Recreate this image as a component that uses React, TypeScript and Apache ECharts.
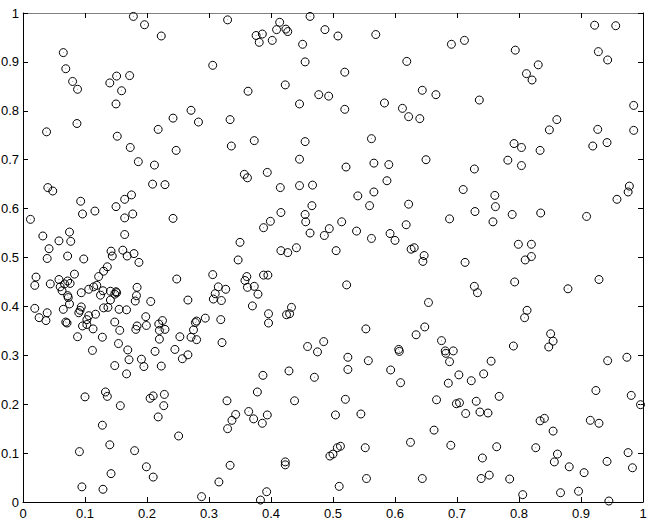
import React, { useEffect, useRef } from 'react';
import * as echarts from 'echarts';

// Tick values shared by both axes
const tickValues = [0, 0.1, 0.2, 0.3, 0.4, 0.5, 0.6, 0.7, 0.8, 0.9, 1];

// Points, grouped by region of the plot
const pointsTopLeft: [number, number][] = [
  [0.178, 0.993], [0.196, 0.976], [0.223, 0.953], [0.065, 0.919], [0.069, 0.886], [0.080, 0.860],
  [0.088, 0.844], [0.140, 0.857], [0.151, 0.871], [0.172, 0.872], [0.159, 0.841], [0.150, 0.814],
  [0.087, 0.774], [0.038, 0.757], [0.152, 0.748], [0.218, 0.762], [0.173, 0.725], [0.186, 0.696],
  [0.212, 0.689],
];

const pointsTopMidLeft: [number, number][] = [
  [0.330, 0.986], [0.376, 0.954], [0.386, 0.957], [0.381, 0.940], [0.414, 0.981], [0.409, 0.966],
  [0.424, 0.967], [0.427, 0.962], [0.402, 0.944], [0.463, 0.993], [0.487, 0.966], [0.451, 0.936],
  [0.455, 0.900], [0.306, 0.893], [0.423, 0.853], [0.363, 0.840], [0.477, 0.833], [0.493, 0.830],
  [0.446, 0.814], [0.271, 0.801], [0.242, 0.785], [0.283, 0.777], [0.334, 0.782], [0.247, 0.719],
  [0.336, 0.728], [0.373, 0.739], [0.455, 0.737], [0.446, 0.701], [0.394, 0.674],
];

const pointsTopMidRight: [number, number][] = [
  [0.508, 0.953], [0.569, 0.956], [0.691, 0.936], [0.712, 0.944], [0.619, 0.901], [0.519, 0.879],
  [0.644, 0.842], [0.666, 0.833], [0.736, 0.822], [0.583, 0.816], [0.519, 0.803], [0.612, 0.805],
  [0.622, 0.788], [0.640, 0.784], [0.562, 0.743], [0.521, 0.685], [0.566, 0.693], [0.590, 0.690],
  [0.650, 0.700], [0.728, 0.681],
];

const pointsTopRight: [number, number][] = [
  [0.922, 0.975], [0.956, 0.974], [0.794, 0.924], [0.928, 0.921], [0.943, 0.904], [0.831, 0.894],
  [0.812, 0.876], [0.821, 0.863], [0.985, 0.811], [0.861, 0.782], [0.849, 0.761], [0.927, 0.762],
  [0.985, 0.760], [0.792, 0.733], [0.804, 0.725], [0.834, 0.719], [0.919, 0.728], [0.942, 0.735],
  [0.782, 0.699], [0.804, 0.688],
];

const pointsMiddleLeft: [number, number][] = [
  [0.040, 0.643], [0.048, 0.636], [0.209, 0.650], [0.229, 0.649], [0.093, 0.615], [0.096, 0.589],
  [0.116, 0.595], [0.012, 0.578], [0.150, 0.604], [0.164, 0.619], [0.175, 0.628], [0.164, 0.581],
  [0.177, 0.589], [0.164, 0.547], [0.032, 0.544], [0.058, 0.534], [0.075, 0.552], [0.077, 0.533],
  [0.042, 0.518], [0.039, 0.498], [0.072, 0.503], [0.098, 0.497], [0.142, 0.513], [0.144, 0.503],
  [0.161, 0.515], [0.168, 0.503], [0.179, 0.508], [0.187, 0.490], [0.021, 0.460], [0.019, 0.443],
  [0.044, 0.446], [0.058, 0.455], [0.060, 0.440], [0.063, 0.432], [0.067, 0.446], [0.072, 0.452],
  [0.076, 0.447], [0.083, 0.466], [0.072, 0.422], [0.073, 0.418], [0.075, 0.405], [0.065, 0.394],
  [0.019, 0.396], [0.026, 0.377], [0.039, 0.387], [0.037, 0.371], [0.069, 0.368], [0.071, 0.366],
  [0.088, 0.338], [0.094, 0.428], [0.106, 0.435], [0.114, 0.440], [0.119, 0.443], [0.122, 0.461],
  [0.130, 0.472], [0.136, 0.481], [0.125, 0.423], [0.129, 0.432], [0.141, 0.431], [0.150, 0.430],
  [0.151, 0.428], [0.148, 0.425], [0.141, 0.413], [0.184, 0.439], [0.183, 0.422], [0.181, 0.411],
  [0.206, 0.410], [0.094, 0.399], [0.092, 0.392], [0.090, 0.387], [0.106, 0.381], [0.103, 0.373],
  [0.117, 0.384], [0.096, 0.360], [0.103, 0.363], [0.113, 0.354], [0.130, 0.397], [0.137, 0.398],
  [0.155, 0.394], [0.167, 0.393], [0.148, 0.368], [0.156, 0.351], [0.182, 0.353], [0.184, 0.360],
  [0.198, 0.379], [0.199, 0.361], [0.219, 0.364], [0.225, 0.371], [0.220, 0.351], [0.229, 0.353],
  [0.220, 0.333], [0.128, 0.337], [0.154, 0.324],
];

const pointsMiddleMidLeft: [number, number][] = [
  [0.357, 0.670], [0.362, 0.663], [0.415, 0.643], [0.446, 0.647], [0.467, 0.648], [0.466, 0.606],
  [0.455, 0.588], [0.456, 0.573], [0.416, 0.592], [0.399, 0.574], [0.388, 0.561], [0.463, 0.550],
  [0.494, 0.559], [0.486, 0.545], [0.242, 0.580], [0.350, 0.531], [0.416, 0.514], [0.427, 0.510],
  [0.441, 0.520], [0.347, 0.495], [0.306, 0.465], [0.248, 0.456], [0.361, 0.461], [0.358, 0.453],
  [0.362, 0.439], [0.373, 0.441], [0.379, 0.425], [0.388, 0.464], [0.395, 0.464], [0.370, 0.401],
  [0.315, 0.440], [0.327, 0.435], [0.310, 0.426], [0.307, 0.415], [0.320, 0.412], [0.266, 0.413],
  [0.294, 0.376], [0.319, 0.373], [0.278, 0.367], [0.280, 0.370], [0.275, 0.352], [0.271, 0.337],
  [0.280, 0.332], [0.253, 0.338], [0.321, 0.326], [0.396, 0.385], [0.396, 0.366], [0.425, 0.383],
  [0.430, 0.385], [0.433, 0.398], [0.459, 0.318], [0.485, 0.328],
];

const pointsMiddleMidRight: [number, number][] = [
  [0.587, 0.657], [0.540, 0.626], [0.566, 0.634], [0.559, 0.606], [0.622, 0.609], [0.710, 0.639],
  [0.761, 0.627], [0.762, 0.604], [0.729, 0.594], [0.758, 0.573], [0.688, 0.579], [0.514, 0.573],
  [0.618, 0.567], [0.538, 0.554], [0.562, 0.539], [0.592, 0.549], [0.600, 0.535], [0.505, 0.514],
  [0.626, 0.517], [0.631, 0.520], [0.647, 0.504], [0.645, 0.492], [0.713, 0.490], [0.522, 0.444],
  [0.728, 0.441], [0.733, 0.428], [0.654, 0.408], [0.553, 0.354], [0.648, 0.358], [0.634, 0.342],
  [0.675, 0.330],
];

const pointsMiddleRight: [number, number][] = [
  [0.978, 0.646], [0.976, 0.634], [0.958, 0.619], [0.789, 0.588], [0.835, 0.591], [0.909, 0.584],
  [0.799, 0.527], [0.820, 0.527], [0.820, 0.502], [0.810, 0.495], [0.793, 0.450], [0.929, 0.455],
  [0.879, 0.436], [0.813, 0.392], [0.809, 0.377], [0.851, 0.344], [0.855, 0.329], [0.848, 0.317],
  [0.791, 0.319],
];

const pointsBottomLeft: [number, number][] = [
  [0.112, 0.310], [0.169, 0.311], [0.213, 0.308], [0.171, 0.291], [0.191, 0.292], [0.148, 0.279],
  [0.195, 0.277], [0.223, 0.278], [0.167, 0.262], [0.100, 0.215], [0.133, 0.225], [0.136, 0.216],
  [0.157, 0.197], [0.205, 0.212], [0.210, 0.217], [0.228, 0.220], [0.227, 0.197], [0.218, 0.174],
  [0.128, 0.157], [0.140, 0.117], [0.091, 0.103], [0.180, 0.105], [0.199, 0.072], [0.210, 0.051],
  [0.142, 0.058], [0.095, 0.031], [0.129, 0.026],
];

const pointsBottomMidLeft: [number, number][] = [
  [0.245, 0.312], [0.257, 0.293], [0.266, 0.301], [0.387, 0.259], [0.429, 0.268], [0.470, 0.255],
  [0.475, 0.307], [0.378, 0.225], [0.329, 0.207], [0.438, 0.207], [0.364, 0.185], [0.372, 0.170],
  [0.386, 0.161], [0.394, 0.178], [0.343, 0.179], [0.337, 0.167], [0.330, 0.150], [0.251, 0.135],
  [0.423, 0.082], [0.423, 0.076], [0.334, 0.075], [0.316, 0.041], [0.288, 0.011], [0.393, 0.021],
  [0.383, 0.004],
];

const pointsBottomMidRight: [number, number][] = [
  [0.606, 0.312], [0.607, 0.308], [0.681, 0.309], [0.682, 0.304], [0.694, 0.309], [0.524, 0.296],
  [0.557, 0.289], [0.524, 0.271], [0.593, 0.270], [0.688, 0.287], [0.755, 0.288], [0.743, 0.262],
  [0.703, 0.260], [0.686, 0.243], [0.723, 0.248], [0.609, 0.244], [0.520, 0.210], [0.667, 0.209],
  [0.699, 0.201], [0.704, 0.203], [0.731, 0.206], [0.714, 0.181], [0.737, 0.184], [0.750, 0.182],
  [0.504, 0.178], [0.545, 0.180], [0.663, 0.147], [0.625, 0.122], [0.690, 0.116], [0.495, 0.094],
  [0.500, 0.098], [0.507, 0.111], [0.512, 0.114], [0.552, 0.111], [0.741, 0.090], [0.554, 0.048],
  [0.644, 0.048], [0.739, 0.048], [0.752, 0.055], [0.510, 0.032],
];

const pointsBottomRight: [number, number][] = [
  [0.943, 0.289], [0.974, 0.296], [0.768, 0.216], [0.924, 0.228], [0.981, 0.218], [0.996, 0.199],
  [0.834, 0.166], [0.841, 0.171], [0.855, 0.145], [0.915, 0.167], [0.929, 0.161], [0.764, 0.113],
  [0.827, 0.111], [0.862, 0.098], [0.857, 0.082], [0.881, 0.072], [0.905, 0.060], [0.942, 0.083],
  [0.976, 0.101], [0.983, 0.070], [0.785, 0.047], [0.806, 0.015], [0.867, 0.019], [0.896, 0.022],
  [0.945, 0.002],
];

const allPoints = [
  ...pointsTopLeft, ...pointsTopMidLeft, ...pointsTopMidRight, ...pointsTopRight,
  ...pointsMiddleLeft, ...pointsMiddleMidLeft, ...pointsMiddleMidRight, ...pointsMiddleRight,
  ...pointsBottomLeft, ...pointsBottomMidLeft, ...pointsBottomMidRight, ...pointsBottomRight,
];

const FONT = "'Liberation Sans', Arial, Helvetica, sans-serif";

export default function App() {
  const ref = useRef<HTMLDivElement>(null);

  useEffect(() => {
    if (!ref.current) return;
    const chart = echarts.init(ref.current, null, { renderer: 'svg' });
    const fmt = (v: number) => {
      const t = tickValues.find((k) => Math.abs(k - v) < 1e-9);
      return t === undefined ? '' : String(t);
    };
    const lineStyle = { color: '#000', width: 1 };
    const baseAxis = {
      type: 'value' as const,
      min: 0,
      max: 1,
      interval: 0.1,
      splitLine: { show: false },
      axisTick: { show: true, inside: true, length: 5, lineStyle: { color: '#000', width: 1 } },
    };

    chart.setOption({
      animation: false,
      backgroundColor: '#fff',
      grid: { left: 23, top: 13, right: 11, bottom: 18, containLabel: false, outerBoundsMode: 'none' },
      xAxis: [
        {
          ...baseAxis,
          position: 'bottom',
          axisLine: { show: true, onZero: false, lineStyle },
          axisLabel: {
            show: true, margin: 5, fontSize: 13, lineHeight: 12, color: '#000',
            fontFamily: FONT, formatter: fmt,
          },
        },
        {
          ...baseAxis,
          position: 'top',
          axisLine: { show: true, onZero: false, lineStyle: { color: '#808080', width: 1 } },
          axisLabel: { show: false },
        },
      ],
      yAxis: [
        {
          ...baseAxis,
          position: 'left',
          axisLine: { show: true, onZero: false, lineStyle },
          axisLabel: { show: true, margin: 4, fontSize: 13, color: '#000', fontFamily: FONT, formatter: fmt },
        },
        {
          ...baseAxis,
          position: 'right',
          axisLine: { show: true, onZero: false, lineStyle },
          axisLabel: { show: false },
        },
      ],
      series: [
        {
          type: 'scatter',
          xAxisIndex: 0,
          yAxisIndex: 0,
          data: allPoints,
          symbol: 'circle',
          symbolSize: 8,
          silent: true,
          itemStyle: { color: 'rgba(0,0,0,0)', borderColor: '#000', borderWidth: 1, opacity: 1 },
        },
        {
          type: 'scatter',
          xAxisIndex: 0,
          yAxisIndex: 0,
          data: allPoints,
          symbol: 'circle',
          symbolSize: 1,
          silent: true,
          itemStyle: { color: '#999', opacity: 1 },
        },
      ],
    });

    return () => chart.dispose();
  }, []);

  return (
    <div
      ref={ref}
      style={{ position: 'fixed', left: 0, top: 0, width: 654, height: 520, background: '#fff' }}
    />
  );
}
